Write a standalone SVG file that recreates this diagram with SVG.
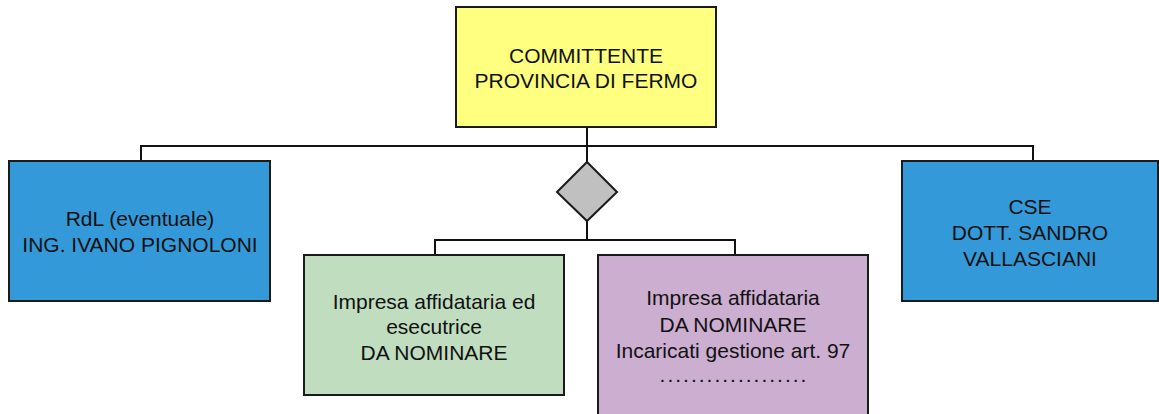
<svg xmlns="http://www.w3.org/2000/svg" width="1159" height="414" viewBox="0 0 1159 414">
<style>
.box{stroke:#1a1a1a;stroke-width:2}
.t{font-family:"Liberation Sans",Arial,sans-serif;font-size:21px;fill:#111;text-anchor:middle}
.c{fill:none;stroke:#111;stroke-width:2}
</style>
<rect width="1159" height="414" fill="#fff"/>
<g id="connectors">
<path class="c" d="M587 127V146M141 161V146H1033V161M587 146V162M587 221V240M435 255V240H735V255"/>
</g>
<g id="committente">
<rect class="box" x="456" y="7" width="260" height="120" fill="#FFFF80"/>
<text class="t" x="586" y="63">COMMITTENTE</text>
<text class="t" x="586" y="88">PROVINCIA DI FERMO</text>
</g>
<g id="rdl">
<rect class="box" x="9" y="161" width="261" height="140" fill="#3399D9"/>
<text class="t" x="140" y="226">RdL (eventuale)</text>
<text class="t" x="140" y="252">ING. IVANO PIGNOLONI</text>
</g>
<g id="diamond">
<polygon class="box" points="587,162 617,192 587,221 557,192" fill="#C0C0C0"/>
</g>
<g id="cse">
<rect class="box" x="902" y="161" width="256" height="140" fill="#3399D9"/>
<text class="t" x="1030" y="214">CSE</text>
<text class="t" x="1030" y="240">DOTT. SANDRO</text>
<text class="t" x="1030" y="266">VALLASCIANI</text>
</g>
<g id="impresa-esecutrice">
<rect class="box" x="304" y="255" width="260" height="140" fill="#C0DDC0"/>
<text class="t" x="434" y="309">Impresa affidataria ed</text>
<text class="t" x="434" y="334">esecutrice</text>
<text class="t" x="434" y="360">DA NOMINARE</text>
</g>
<g id="impresa-affidataria">
<rect class="box" x="598" y="255" width="270" height="170" fill="#CCAED0"/>
<text class="t" x="733" y="305">Impresa affidataria</text>
<text class="t" x="733" y="332">DA NOMINARE</text>
<text class="t" x="733" y="358">Incaricati gestione art. 97</text>
<text class="t" x="734" y="382" style="letter-spacing:2px">...................</text>
</g>
</svg>
